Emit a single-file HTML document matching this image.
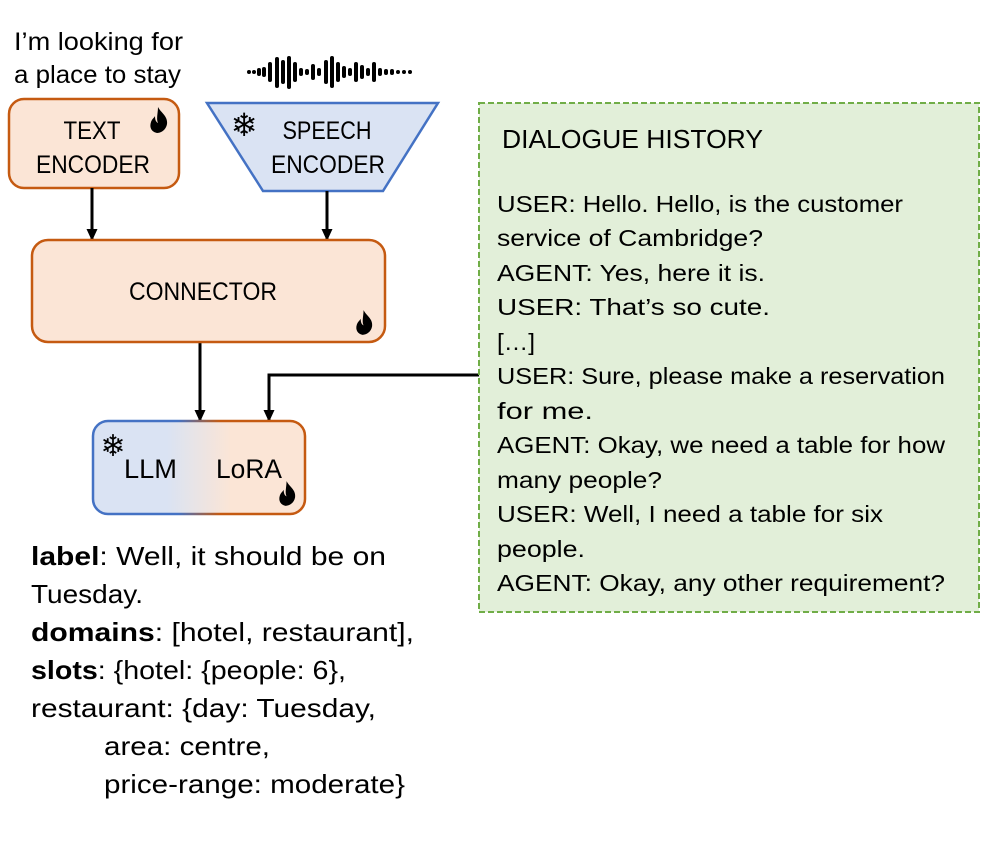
<!DOCTYPE html>
<html><head><meta charset="utf-8"><style>
html,body{margin:0;padding:0;background:#fff;}
svg{display:block;}
text{font-family:"Liberation Sans","DejaVu Sans",sans-serif;fill:#000;}
</style></head><body>
<svg width="997" height="842" viewBox="0 0 997 842" xmlns="http://www.w3.org/2000/svg">
<defs>
<linearGradient id="g" x1="0" x2="1" y1="0" y2="0">
<stop offset="0" stop-color="#dae3f3"/><stop offset="0.35" stop-color="#dae3f3"/><stop offset="0.65" stop-color="#fbe5d6"/><stop offset="1" stop-color="#fbe5d6"/></linearGradient>
<linearGradient id="gs" x1="0" x2="1" y1="0" y2="0">
<stop offset="0" stop-color="#4472c4"/><stop offset="0.4" stop-color="#4472c4"/><stop offset="0.6" stop-color="#c55a11"/><stop offset="1" stop-color="#c55a11"/></linearGradient>
<marker id="a" markerWidth="12" markerHeight="12" refX="11" refY="6" orient="auto" markerUnits="userSpaceOnUse"><path d="M0,0.5 L12,6 L0,11.5 Z" fill="#000"/></marker>
<symbol id="fire" viewBox="0 0 20 26"><path d="M9,0 C12,6 19,9 18,17 C17,23 12,26 8,26 C3,25 0,21 2,15 C3,12 5,11 6,9 C6,13 7,15 9,16 C7,12 9,6 9,0 Z M10,19 C13,17 13,14 12,12 C14,15 15,19 12,22 C10,23 9,21 10,19Z" fill="#000"/></symbol>
</defs>

<text x="14" y="50" font-size="25" textLength="169" lengthAdjust="spacingAndGlyphs">I’m looking for</text>
<text x="14" y="83" font-size="25" textLength="167" lengthAdjust="spacingAndGlyphs">a place to stay</text>

<g stroke="#000" stroke-width="4" stroke-linecap="round">
<line x1="249" y1="72" x2="249" y2="72"/><line x1="254" y1="72" x2="254" y2="72"/><line x1="259" y1="70" x2="259" y2="74"/><line x1="264" y1="69" x2="264" y2="75"/>
<line x1="270" y1="64" x2="270" y2="80"/><line x1="277" y1="59" x2="277" y2="86"/><line x1="283" y1="62" x2="283" y2="82"/><line x1="289" y1="58" x2="289" y2="87"/><line x1="295" y1="64" x2="295" y2="80"/>
<line x1="301" y1="70" x2="301" y2="74"/><line x1="307" y1="71" x2="307" y2="73"/><line x1="313" y1="66" x2="313" y2="78"/><line x1="319" y1="70" x2="319" y2="74"/>
<line x1="326" y1="62" x2="326" y2="82"/><line x1="332" y1="58" x2="332" y2="86"/><line x1="338" y1="64" x2="338" y2="80"/><line x1="344" y1="68" x2="344" y2="76"/>
<line x1="350" y1="70" x2="350" y2="74"/><line x1="356" y1="64" x2="356" y2="80"/><line x1="362" y1="67" x2="362" y2="77"/><line x1="368" y1="70" x2="368" y2="74"/>
<line x1="374" y1="64" x2="374" y2="80"/><line x1="380" y1="70" x2="380" y2="74"/><line x1="386" y1="71" x2="386" y2="73"/><line x1="392" y1="71" x2="392" y2="73"/><line x1="398" y1="72" x2="398" y2="72"/><line x1="404" y1="72" x2="404" y2="72"/><line x1="410" y1="72" x2="410" y2="72"/>
</g>

<!-- text encoder -->
<rect x="9" y="99" width="170" height="89" rx="15" fill="#fbe5d6" stroke="#c55a11" stroke-width="2.5"/>
<use href="#fire" x="149" y="107" width="20" height="26"/>
<text x="92" y="139" font-size="25" text-anchor="middle" textLength="57" lengthAdjust="spacingAndGlyphs">TEXT</text>
<text x="93" y="173" font-size="25" text-anchor="middle" textLength="114" lengthAdjust="spacingAndGlyphs">ENCODER</text>

<!-- speech encoder -->
<polygon points="207,103 438,103 383,191 263,191" fill="#dae3f3" stroke="#4472c4" stroke-width="2.5"/>
<text x="244" y="136" font-size="32" text-anchor="middle">❄</text>
<text x="327" y="139" font-size="25" text-anchor="middle" textLength="89" lengthAdjust="spacingAndGlyphs">SPEECH</text>
<text x="328" y="173" font-size="25" text-anchor="middle" textLength="114" lengthAdjust="spacingAndGlyphs">ENCODER</text>

<g stroke="#000" stroke-width="3" fill="none">
<line x1="92" y1="188" x2="92" y2="240" marker-end="url(#a)"/>
<line x1="327" y1="191" x2="327" y2="240" marker-end="url(#a)"/>
<line x1="200" y1="342" x2="200" y2="421" marker-end="url(#a)"/>
<polyline points="479,375 269,375 269,421" marker-end="url(#a)"/>
</g>

<!-- connector -->
<rect x="32" y="240" width="353" height="102" rx="16" fill="#fbe5d6" stroke="#c55a11" stroke-width="2.5"/>
<text x="203" y="300" font-size="25" text-anchor="middle" textLength="148" lengthAdjust="spacingAndGlyphs">CONNECTOR</text>
<use href="#fire" x="355" y="310" width="19" height="25"/>

<!-- LLM -->
<rect x="93" y="421" width="212" height="93" rx="15" fill="url(#g)" stroke="url(#gs)" stroke-width="2.5"/>
<text x="113" y="456" font-size="30" text-anchor="middle">❄</text>
<text x="124" y="478" font-size="27" textLength="53" lengthAdjust="spacingAndGlyphs">LLM</text>
<text x="216" y="478" font-size="27" textLength="66" lengthAdjust="spacingAndGlyphs">LoRA</text>
<use href="#fire" x="278" y="481" width="19" height="25"/>

<!-- dialogue -->
<rect x="479" y="103" width="500" height="509" fill="#e2efd9" stroke="#70ad47" stroke-width="2" stroke-dasharray="6,3"/>
<g font-size="23">
<text x="502" y="148" font-size="26" textLength="261" lengthAdjust="spacingAndGlyphs">DIALOGUE HISTORY</text>
<text x="497" y="212" textLength="406" lengthAdjust="spacingAndGlyphs">USER: Hello. Hello, is the customer</text>
<text x="497" y="246" textLength="266" lengthAdjust="spacingAndGlyphs">service of Cambridge?</text>
<text x="497" y="281" textLength="268" lengthAdjust="spacingAndGlyphs">AGENT: Yes, here it is.</text>
<text x="497" y="315" textLength="273" lengthAdjust="spacingAndGlyphs">USER: That’s so cute.</text>
<text x="497" y="350" textLength="38" lengthAdjust="spacingAndGlyphs">[…]</text>
<text x="497" y="384" textLength="448" lengthAdjust="spacingAndGlyphs">USER: Sure, please make a reservation</text>
<text x="497" y="419" textLength="96" lengthAdjust="spacingAndGlyphs">for me.</text>
<text x="497" y="453" textLength="448" lengthAdjust="spacingAndGlyphs">AGENT: Okay, we need a table for how</text>
<text x="497" y="488" textLength="165" lengthAdjust="spacingAndGlyphs">many people?</text>
<text x="497" y="522" textLength="386" lengthAdjust="spacingAndGlyphs">USER: Well, I need a table for six</text>
<text x="497" y="557" textLength="88" lengthAdjust="spacingAndGlyphs">people.</text>
<text x="497" y="591" textLength="448" lengthAdjust="spacingAndGlyphs">AGENT: Okay, any other requirement?</text>
</g>

<g font-size="26">
<text x="31" y="565" textLength="355" lengthAdjust="spacingAndGlyphs"><tspan font-weight="bold">label</tspan>: Well, it should be on</text>
<text x="31" y="603" textLength="112" lengthAdjust="spacingAndGlyphs">Tuesday.</text>
<text x="31" y="641" textLength="383" lengthAdjust="spacingAndGlyphs"><tspan font-weight="bold">domains</tspan>: [hotel, restaurant],</text>
<text x="31" y="679" textLength="315" lengthAdjust="spacingAndGlyphs"><tspan font-weight="bold">slots</tspan>: {hotel: {people: 6},</text>
<text x="31" y="717" textLength="345" lengthAdjust="spacingAndGlyphs">restaurant: {day: Tuesday,</text>
<text x="104" y="755" textLength="166" lengthAdjust="spacingAndGlyphs">area: centre,</text>
<text x="104" y="793" textLength="301" lengthAdjust="spacingAndGlyphs">price-range: moderate}</text>
</g>
</svg>
</body></html>
